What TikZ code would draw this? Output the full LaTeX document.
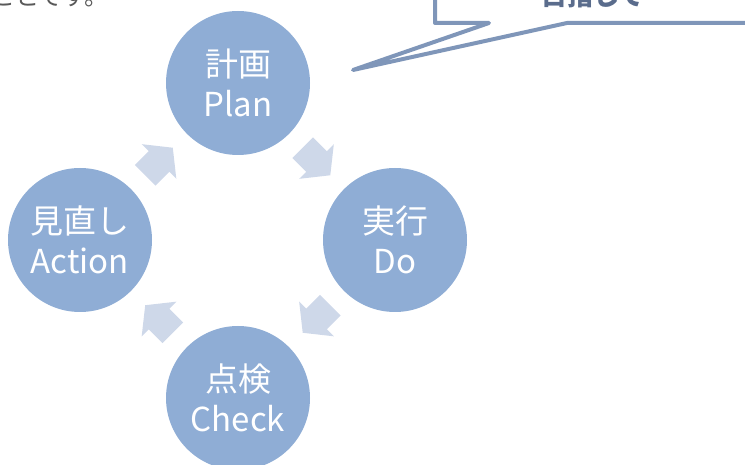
\documentclass[tikz,border=0pt]{standalone}
\usepackage{fontspec}
\usepackage{tikz}
\usetikzlibrary{calc}
\newfontfamily\jp{Noto Sans CJK JP}
\definecolor{circleblue}{RGB}{143,173,213}
\definecolor{arrowblue}{RGB}{206,216,233}
\definecolor{calloutblue}{RGB}{127,150,185}
\definecolor{introgray}{RGB}{89,89,89}
\definecolor{calloutgray}{RGB}{90,108,140}

\begin{document}
\begin{tikzpicture}
	[x=1pt,y=1pt,
	phase/.style={circle,fill=circleblue,minimum size=144pt,inner sep=0pt,text=white,align=center,font=\jp\fontsize{33}{40}\selectfont}]
	\clip (0,0) rectangle (745,464);
	\node[phase] (plan) at (238,381) {計画\\Plan};
	\node[phase] (do) at (395,224) {実行\\Do};
	\node[phase] (check) at (238,66) {点検\\Check};
	\node[phase] (action) at (80,224) {見直し\\Action};
	\foreach \from/\to/\ang in {plan/do/-45,do/check/-135,check/action/135,action/plan/45}
	\fill[arrowblue,shift={($(\from)!0.5!(\to)$)},rotate=\ang] (-19.5,-14.5) -- (0,-14.5) -- (0,-24.5) -- (19.5,0) -- (0,24.5) -- (0,14.5) -- (-19.5,14.5) -- cycle;
	
	\node[anchor=base west,inner sep=0pt,text=introgray,font=\jp\fontsize{24}{28}\selectfont] (intro) at (-9,458) {ことです。};
	\draw[calloutblue,line width=4pt,line join=round] (435,500) -- (435,441) -- (489,441) -- (353,394) -- (567,441) -- (760,441);
	\node[anchor=base,inner sep=0pt,text=calloutgray,font=\jp\bfseries\fontsize{26}{30}\selectfont] (goal) at (593,458) {目指して};
\end{tikzpicture}
\end{document}
